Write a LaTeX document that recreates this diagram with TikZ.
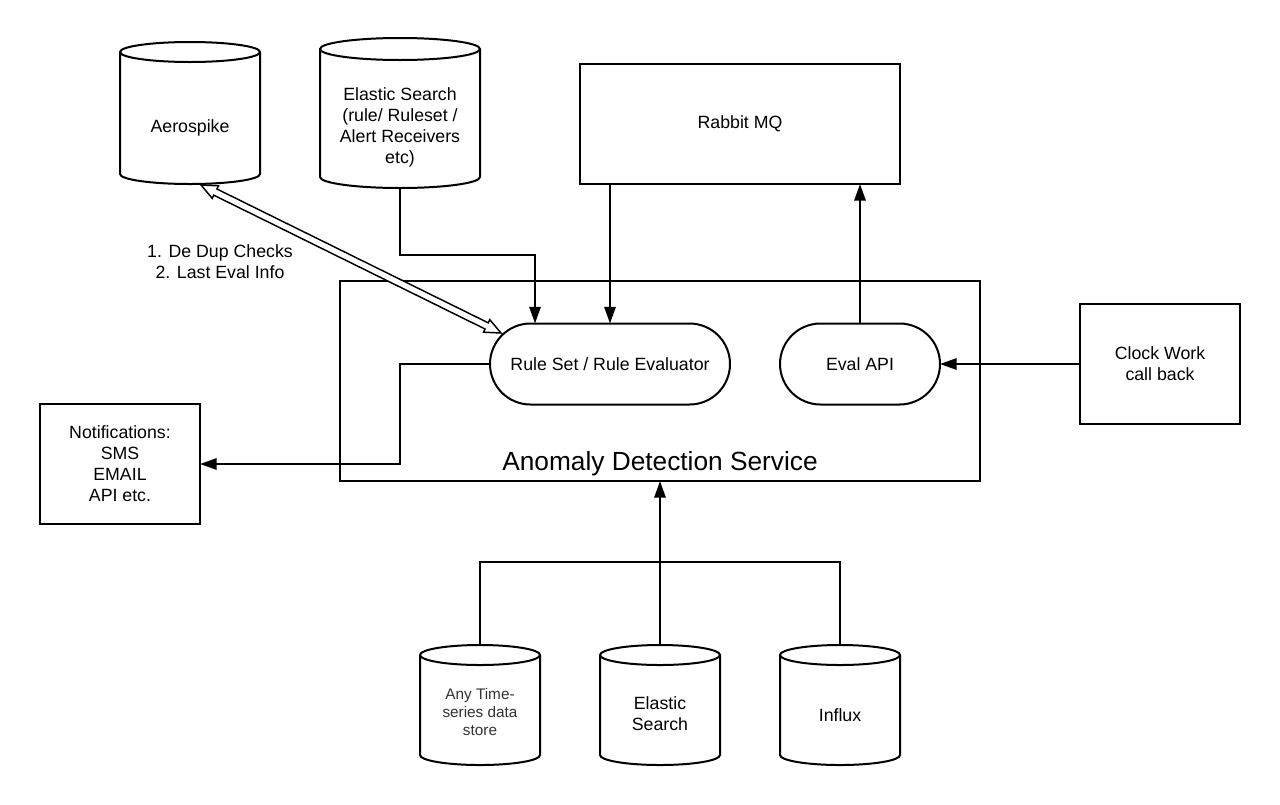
\documentclass[tikz,border=0pt]{standalone}
\usepackage{fontspec}
\setmainfont{Liberation Sans}
\usetikzlibrary{arrows.meta,shapes.misc,calc}
\newcommand\cylout[2]{%
  \draw[ln] let \p1=($(#1.east)-(#1.west)$) in
    ([yshift=-#2]#1.north west) -- ([yshift=#2]#1.south west)
    arc[start angle=180, end angle=360, x radius={0.5*\x1}, y radius=#2]
    -- ([yshift=-#2]#1.north east)
    arc[start angle=0, end angle=360, x radius={0.5*\x1}, y radius=#2];}
\begin{document}
\begin{tikzpicture}[x=0.75pt,y=-0.75pt,
  ln/.style={line width=1.5pt, draw=black},
  arr/.style={ln, -{Triangle[length=12.5pt,width=8.5pt]}},
  txt/.style={font=\fontsize{13.3pt}{15.75pt}\selectfont, align=center, text=black},
  smalltxt/.style={font=\fontsize{11.5pt}{13.6pt}\selectfont, align=center, text=black!80},
  boxnode/.style={ln, rectangle, inner sep=0pt, outer sep=0pt, txt},
  pill/.style={ln, rounded rectangle, inner sep=0pt, outer sep=0pt, txt},
  cylarea/.style={rectangle, inner sep=0pt, outer sep=0pt},
  dbl/.style={line width=1.1pt, draw=black, fill=white, line join=miter}
]
\fill[white] (0,0) rectangle (1280,804);
\useasboundingbox (0,0) rectangle (1280,804);

% boxes
\node[boxnode, minimum width=480pt, minimum height=150pt] (ads) at (660,381) {};
\node[font=\fontsize{19.7pt}{24pt}\selectfont, text=black] (adslbl) at (660,464) {Anomaly Detection Service};
\node[boxnode, minimum width=240pt, minimum height=90pt] (rabbit) at (740,124) {Rabbit MQ};
\node[boxnode, minimum width=120pt, minimum height=90pt] (clock) at (1160,364) {Clock Work\\call back};
\node[boxnode, minimum width=120pt, minimum height=90pt] (notif) at (120,464) {Notifications:\\SMS\\EMAIL\\API etc.};

% pills
\node[pill, minimum width=180pt, minimum height=60.75pt] (rule) at (610,364) {Rule Set / Rule Evaluator};
\node[pill, minimum width=120pt, minimum height=60.75pt] (eval) at (860,364) {Eval API};

% cylinders
\node[cylarea, minimum width=105pt, minimum height=106.5pt,
  label={[txt, yshift=-11.25pt]center:Aerospike}] (aero) at (190,113) {};
\cylout{aero}{7.5pt}
\node[cylarea, minimum width=120pt, minimum height=112.5pt,
  label={[txt, yshift=-10.5pt]center:Elastic Search\\(rule/ Ruleset /\\Alert Receivers\\etc)}] (es) at (400,113) {};
\cylout{es}{8.25pt}
\node[cylarea, minimum width=90pt, minimum height=90pt,
  label={[smalltxt, yshift=-5.25pt]center:Any Time-\\series data\\store}] (ts) at (480,705) {};
\cylout{ts}{7.5pt}
\node[cylarea, minimum width=90pt, minimum height=90pt,
  label={[txt, yshift=-6.75pt]center:Elastic\\Search}] (esb) at (660,705) {};
\cylout{esb}{7.5pt}
\node[cylarea, minimum width=90pt, minimum height=90pt,
  label={[txt, yshift=-7.5pt]center:Influx}] (influx) at (840,705) {};
\cylout{influx}{7.5pt}

\node[txt] (dedup) at (220,262) {1. De Dup Checks\\2. Last Eval Info};

% connectors
\draw[arr] (es.south) -- ++(0,67) -| ([xshift=-56.25pt]rule.north);
\draw[arr] (rule.north |- rabbit.south) -- (rule.north);
\draw[arr] (eval.north) -- (eval.north |- rabbit.south);
\draw[arr] (clock.west) -- (eval.east);
\draw[arr] (rule.west) -- ++(-90,0) |- (notif.east);
\draw[ln] (ts.north) -- ++(0,-83) -| (influx.north);
\draw[arr] (esb.north) -- (ads.south);

% double hollow arrow Aerospike <-> Rule Set
\coordinate (dS) at ([xshift=8.25pt,yshift=-0.75pt]aero.south);
\coordinate (dE) at ([xshift=8.25pt,yshift=23.25pt]rule.west);
\path let \p1=($(dE)-(dS)$), \n1={atan2(\y1,\x1)}, \n2={veclen(\x1,\y1)} in
  \pgfextra{\xdef\dblang{\n1}\xdef\dbllen{\n2}};
\begin{scope}[shift={(dS)}, rotate=\dblang]
\draw[dbl] (0pt,0pt) -- (12pt,5.25pt) -- (12pt,2.6pt) -- ({\dbllen*1pt-12pt},2.6pt)
  -- ({\dbllen*1pt-12pt},5.25pt) -- ({\dbllen*1pt},0pt) -- ({\dbllen*1pt-12pt},-5.25pt)
  -- ({\dbllen*1pt-12pt},-2.6pt) -- (12pt,-2.6pt) -- (12pt,-5.25pt) -- cycle;
\end{scope}
\end{tikzpicture}
\end{document}
